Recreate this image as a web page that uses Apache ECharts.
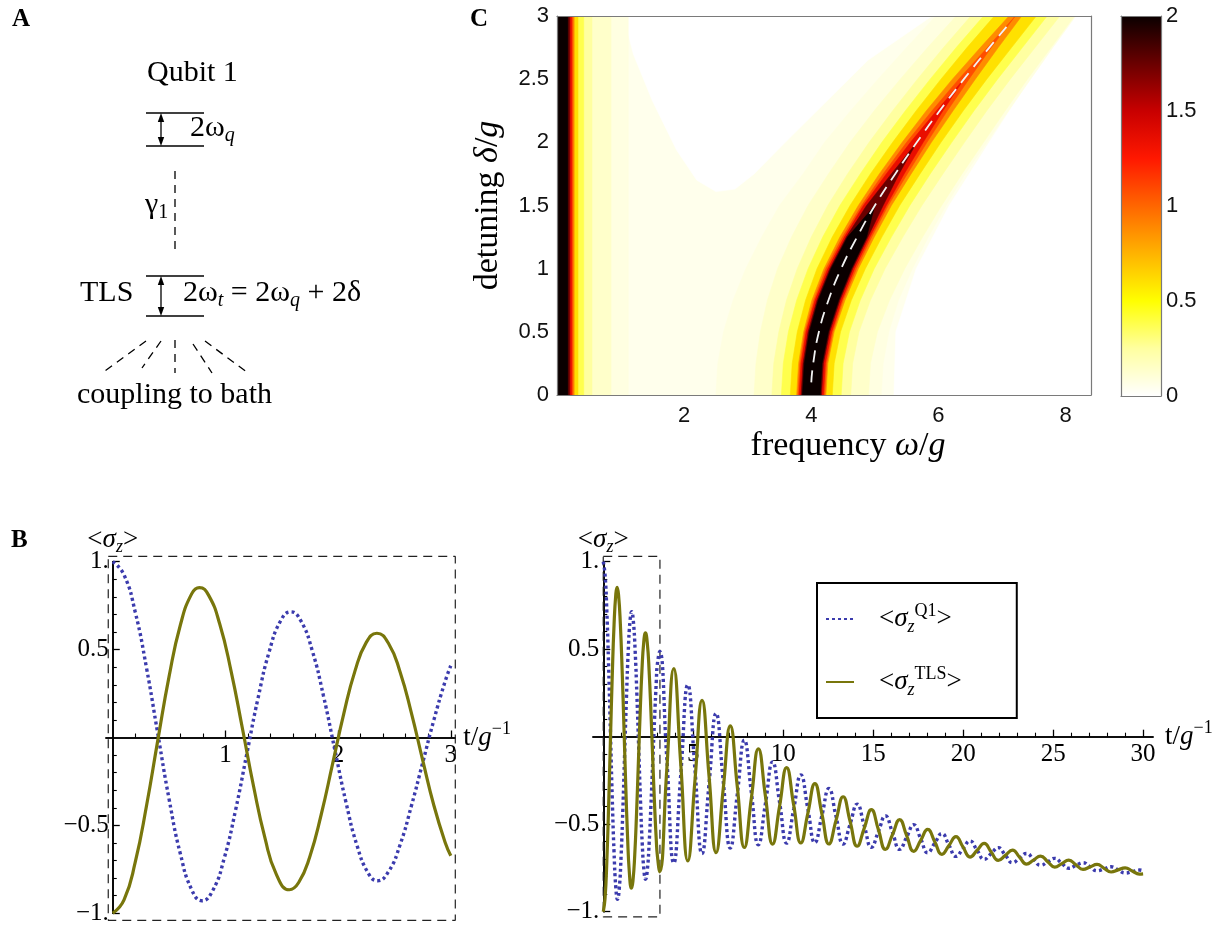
<!DOCTYPE html>
<html><head><meta charset="utf-8">
<script src="https://cdn.jsdelivr.net/npm/echarts@6/dist/echarts.min.js"></script>
<style>html,body{margin:0;padding:0;background:#fff}#chart{width:1224px;height:927px}</style>
</head><body><div id="chart"></div>
<script>
// ================= DATA =================
// Panel B, left: <sigma_z>(t) for t in [0,3] (samples incl. the extrema)
const tTlsLeft = [0,0.1,0.2,0.3,0.4,0.5,0.6,0.7,0.769,0.85,0.95,1.05,1.15,1.25,1.35,1.45,1.567,1.65,1.75,1.85,1.95,2.05,2.15,2.25,2.344,2.45,2.55,2.65,2.75,2.85,2.95,3.0];
const tlsLeft  = [-1.0,-0.924,-0.708,-0.387,-0.015,0.348,0.640,0.817,0.853,0.810,0.644,0.378,0.054,-0.279,-0.570,-0.776,-0.866,-0.825,-0.675,-0.438,-0.153,0.135,0.379,0.541,0.593,0.532,0.373,0.140,-0.127,-0.387,-0.597,-0.672];
const tQ1Left  = [0,0.1,0.2,0.3,0.4,0.5,0.6,0.7,0.792,0.89,0.99,1.09,1.19,1.29,1.39,1.49,1.579,1.67,1.77,1.87,1.97,2.07,2.17,2.27,2.35,2.45,2.55,2.65,2.75,2.85,2.95,3.0];
const q1Left   = [1.0,0.925,0.712,0.394,0.020,-0.351,-0.662,-0.865,-0.929,-0.867,-0.685,-0.413,-0.092,0.226,0.492,0.664,0.715,0.663,0.495,0.237,-0.067,-0.369,-0.619,-0.774,-0.815,-0.76,-0.61,-0.39,-0.145,0.10,0.32,0.408];
// Panel B, right: continuation for t in (3,30] (extrema and mid-crossings)
const tLong   = [3.136,3.528,3.92,4.31,4.70,5.095,5.49,5.88,6.27,6.665,7.06,7.45,7.84,8.23,8.62,9.015,9.41,9.80,10.19,10.585,10.98,11.37,11.76,12.15,12.54,12.935,13.33,13.72,14.11,14.505,14.90,15.29,15.68,16.075,16.47,16.86,17.25,17.64,18.03,18.425,18.82,19.21,19.60,19.99,20.38,20.775,21.17,21.56,21.95,22.345,22.74,23.13,23.52,23.91,24.30,24.695,25.09,25.48,25.87,26.265,26.66,27.05,27.44,27.83,28.22,28.61,29.0,29.395,29.79,30.0];
const tlsLong = [-0.772,-0.192,0.389,-0.161,-0.71,-0.251,0.208,-0.227,-0.662,-0.30,0.062,-0.286,-0.633,-0.352,-0.07,-0.342,-0.614,-0.396,-0.177,-0.392,-0.607,-0.438,-0.268,-0.441,-0.613,-0.478,-0.343,-0.485,-0.626,-0.522,-0.417,-0.531,-0.644,-0.559,-0.474,-0.565,-0.655,-0.593,-0.53,-0.601,-0.672,-0.622,-0.571,-0.630,-0.688,-0.649,-0.61,-0.659,-0.707,-0.678,-0.648,-0.688,-0.728,-0.705,-0.682,-0.714,-0.745,-0.725,-0.705,-0.732,-0.758,-0.744,-0.73,-0.752,-0.773,-0.761,-0.749,-0.767,-0.785,-0.784];
const q1Long  = [0.487,-0.118,-0.722,-0.213,0.296,-0.186,-0.668,-0.268,0.133,-0.252,-0.636,-0.328,-0.02,-0.319,-0.618,-0.381,-0.144,-0.376,-0.608,-0.413,-0.218,-0.412,-0.606,-0.451,-0.296,-0.455,-0.613,-0.499,-0.385,-0.509,-0.632,-0.542,-0.452,-0.548,-0.644,-0.574,-0.503,-0.583,-0.663,-0.608,-0.553,-0.619,-0.684,-0.640,-0.596,-0.649,-0.701,-0.668,-0.634,-0.677,-0.72,-0.694,-0.667,-0.701,-0.735,-0.715,-0.695,-0.724,-0.752,-0.736,-0.72,-0.743,-0.766,-0.755,-0.743,-0.761,-0.779,-0.771,-0.762,-0.766];
// Panel B ticks and ranges
const xMajorLeft  = [1,2,3];
const xMinorLeft  = [0.2,0.4,0.6,0.8,1.2,1.4,1.6,1.8,2.2,2.4,2.6,2.8];
const xMajorRight = [5,10,15,20,25,30];
const xMinorRight = [1,2,3,4,6,7,8,9,11,12,13,14,16,17,18,19,21,22,23,24,26,27,28,29];
const yMajor = [-1,-0.5,0.5,1];
const yMinor = [-0.9,-0.8,-0.7,-0.6,-0.4,-0.3,-0.2,-0.1,0.1,0.2,0.3,0.4,0.6,0.7,0.8,0.9];
const xRangeLeft  = [-0.06, 3.04];
const xRangeRight = [-0.57, 30.55];
const yRangeB     = [-1, 1];
// Zoom-window boxes (t range, sigma range)
const boxLeftT  = [-0.04, 3.04];
const boxLeftV  = [-1.04, 1.03];
const boxRightT = [0, 3.15];
const boxRightV = [-1.03, 1.03];

// Panel C: spectrum drawn as filled contour bands
const ridgeDelta = [0,0.25,0.5,0.75,1.0,1.25,1.5,1.75,2.0,2.25,2.5,2.75,3.0];
const ridgeOmega = [4.0,4.03,4.12,4.27,4.47,4.72,5.0,5.32,5.66,6.02,6.4,6.8,7.21];
const bandLevels = [0.06,0.1,0.2,0.3,0.5,0.8,1.0,1.2,1.6,2.0];
const bandFill   = [0.08,0.14,0.25,0.38,0.6,0.88,1.08,1.35,1.75,2.0];
const leftBandEdge = [1.12,0.85,0.55,0.42,0.33,0.27,0.25,0.23,0.2,0.17];
const haloLeftWidth  = [1.5,1.5,1.5,1.5,1.5,1.5,1.5,1.45,1.45,1.4,1.35,1.3,1.25];
const haloRightWidth = [1.1,1.1,1.1,1.1,1.12,1.12,1.12,1.1,1.1,1.08,1.05,1.0,0.95];
const ridgeHalfWidth = [
  [0.9,0.9,0.92,0.96,1.0,1.03,1.05,1.05,1.05,1.03,1.0,0.97,0.93],
  [0.62,0.62,0.63,0.66,0.69,0.72,0.74,0.75,0.75,0.74,0.73,0.72,0.7],
  [0.47,0.47,0.48,0.5,0.52,0.54,0.55,0.55,0.55,0.54,0.53,0.52,0.5],
  [0.33,0.33,0.34,0.36,0.38,0.39,0.39,0.39,0.38,0.37,0.36,0.35,0.33],
  [0.23,0.23,0.24,0.26,0.27,0.27,0.26,0.25,0.23,0.21,0.18,0.14,0.1],
  [0.21,0.21,0.22,0.23,0.24,0.23,0.21,0.19,0.16,0.12,0.08,0.03,0],
  [0.19,0.19,0.2,0.21,0.21,0.2,0.18,0.14,0.1,0.05,0],
  [0.16,0.16,0.17,0.18,0.18,0.17,0.13,0.06,0],
  [0.14,0.14,0.15,0.16,0.16,0.15,0]
];
const creamValue = 0.05;
const whiteRight = [[5.3,0],[8.4,0],[8.4,3],[8.08,3],[7.44,2.5],[6.8,2.0],[6.17,1.5],[5.65,1.0],[5.33,0.5]];
const whiteNotch = [[1.05,3],[1.2,2.7],[1.5,2.33],[1.88,1.94],[2.2,1.7],[2.5,1.61],[2.8,1.63],[3.1,1.75],[3.61,2.01],[4.25,2.33],[4.89,2.65],[5.9,3.0]];
const dashDelta = [0.1,0.25,0.5,0.75,1.0,1.25,1.5,1.75,2.0,2.25,2.5,2.75,2.95];
const dashOmega = [4.0,4.03,4.12,4.27,4.47,4.72,5.0,5.32,5.66,6.02,6.4,6.8,7.13];
const heatXTicks = [2,4,6,8];
const heatYTicks = [0,0.5,1,1.5,2,2.5,3];
const cbarTicks  = [0,0.5,1,1.5,2];
const cmapColors = ['#ffffff','#ffffa0','#ffff00','#ffb300','#ff6600','#ff1800','#c80000','#6a0000','#0a0000'];

// ================= STYLE =================
const SERIF = '"Liberation Serif","Times New Roman",serif';
const SANS = '"Liberation Sans",Arial,sans-serif';
const BLUE = '#3b3bad', OLIVE = '#78760c';

function pairs(xs, ys){ return xs.map((x,i)=>[x, ys[i]]); }
function fmtTick(v){ const a = Math.abs(v); const s = a === 1 ? '1.' : String(a); return (v < 0 ? '\u2212' : '') + s; }

const richAxis = {
  n:   {fontFamily: SERIF, fontSize: 27, color:'#000', lineHeight: 34},
  i:   {fontFamily: SERIF, fontSize: 27, fontStyle:'italic', color:'#000', lineHeight: 34},
  sub: {fontFamily: SERIF, fontSize: 18, fontStyle:'italic', color:'#000', verticalAlign:'bottom', lineHeight: 18},
  sup: {fontFamily: SERIF, fontSize: 18, color:'#000', verticalAlign:'top', lineHeight: 18},
  sp:  {width: 20}
};
const richBig = {
  n: {fontFamily: SERIF, fontSize: 34, color:'#000'},
  i: {fontFamily: SERIF, fontSize: 34, fontStyle:'italic', color:'#000'}
};

// ================= HEAT LAYERS =================
const heatLayers = [];
heatLayers.push({value: creamValue, pts: [[0,0],[8.4,0],[8.4,3],[0,3]]});
heatLayers.push({value: 0, pts: whiteRight});
heatLayers.push({value: 0, pts: whiteNotch});
bandLevels.forEach((lv, k) => {
  const fill = bandFill[k];
  const e = leftBandEdge[k];
  heatLayers.push({value: fill, pts: [[0,0],[e,0],[e,3],[0,3]]});
  const wl = k === 0 ? haloLeftWidth : ridgeHalfWidth[k-1];
  const wr = k === 0 ? haloRightWidth : ridgeHalfWidth[k-1];
  const left = [], right = [];
  for (let i = 0; i < wl.length; i++) {
    left.push([ridgeOmega[i] - wl[i], ridgeDelta[i]]);
    right.push([ridgeOmega[i] + wr[i], ridgeDelta[i]]);
  }
  heatLayers.push({value: fill, pts: left.concat(right.reverse())});
});

// ================= AXES =================
const gridB = [
  {left:106, top:561.7, width:349.3, height:351.6},
  {left:593, top:561.7, width:560, height:350}
];
function bAxes(gridIndex, xr, xMaj, xMin, xNameGap) {
  const g = gridB[gridIndex];
  // axes cross at t = 0, sigma = 0 (placed with offsets from the grid edge)
  const xOff = -g.height * (0 - yRangeB[0]) / (yRangeB[1] - yRangeB[0]);
  const yOff = -g.width * (0 - xr[0]) / (xr[1] - xr[0]);
  const axisLine = {onZero: false, lineStyle: {color:'#000', width: 1.6}};
  const x = [
    {gridIndex, type:'value', position:'bottom', offset:xOff, min:xr[0], max:xr[1], axisLine,
     axisTick:{inside:true, length:7, customValues:xMaj, lineStyle:{color:'#000', width:1.3}},
     axisLabel:{customValues:xMaj, fontFamily:SERIF, fontSize:25, color:'#000', margin:5, formatter: v => String(v)},
     splitLine:{show:false},
     name:'{n|t/}{i|g}{sup|\u22121}', nameLocation:'end', nameGap:xNameGap, nameMoveOverlap:false,
     nameTextStyle:{rich: richAxis, align:'left', verticalAlign:'middle'}},
    {gridIndex, type:'value', position:'bottom', offset:xOff, min:xr[0], max:xr[1], axisLine,
     axisTick:{inside:true, length:4, customValues:xMin, lineStyle:{color:'#000', width:1.1}},
     axisLabel:{show:false}, splitLine:{show:false}}
  ];
  const y = [
    {gridIndex, type:'value', position:'left', offset:yOff, min:yRangeB[0], max:yRangeB[1], axisLine,
     axisTick:{inside:true, length:7, customValues:yMajor, lineStyle:{color:'#000', width:1.3}},
     axisLabel:{customValues:yMajor, fontFamily:SERIF, fontSize:25, color:'#000', margin:4, formatter: fmtTick},
     splitLine:{show:false},
     name:'{n|<}{i|\u03c3}{sub|z}{n|>}', nameLocation:'end', nameGap:22, nameMoveOverlap:false,
     nameTextStyle:{rich: richAxis, align:'center', verticalAlign:'middle'}},
    {gridIndex, type:'value', position:'left', offset:yOff, min:yRangeB[0], max:yRangeB[1], axisLine,
     axisTick:{inside:true, length:4, customValues:yMinor, lineStyle:{color:'#000', width:1.1}},
     axisLabel:{show:false}, splitLine:{show:false}}
  ];
  return {x, y};
}
const bl = bAxes(0, xRangeLeft, xMajorLeft, xMinorLeft, 8);
const br = bAxes(1, xRangeRight, xMajorRight, xMinorRight, 12);

const greyLine = {show:true, onZero:false, lineStyle:{color:'#7a7a7a', width:1.2}};
const heatX = [
  {gridIndex:2, type:'value', position:'bottom', min:0, max:8.4, z:10, axisLine:greyLine, axisTick:{show:false},
   axisLabel:{customValues:heatXTicks, fontFamily:SANS, fontSize:22, color:'#111', margin:10},
   splitLine:{show:false},
   name:'{n|frequency }{i|\u03c9}{n|/}{i|g}', nameLocation:'middle', nameGap:34,
   nameTextStyle:{rich: richBig, padding:[0,0,0,48]}},
  {gridIndex:2, type:'value', position:'top', min:0, max:8.4, z:10, axisLine:greyLine, axisTick:{show:false}, axisLabel:{show:false}, splitLine:{show:false}}
];
const heatY = [
  {gridIndex:2, type:'value', position:'left', min:0, max:3, z:10, axisLine:greyLine, axisTick:{show:false},
   axisLabel:{customValues:heatYTicks, fontFamily:SANS, fontSize:22, color:'#111', margin:8},
   splitLine:{show:false},
   name:'{n|detuning }{i|\u03b4}{n|/}{i|g}', nameLocation:'middle', nameGap:52, nameRotate:90,
   nameTextStyle:{rich: richBig}},
  {gridIndex:2, type:'value', position:'right', min:0, max:3, z:10, axisLine:greyLine, axisTick:{show:false}, axisLabel:{show:false}, splitLine:{show:false}}
];
const cbX = [
  {gridIndex:3, type:'category', data:['c'], position:'bottom', z:10, axisLine:greyLine, axisTick:{show:false}, axisLabel:{show:false}},
  {gridIndex:3, type:'category', data:['c'], position:'top', z:10, axisLine:greyLine, axisTick:{show:false}, axisLabel:{show:false}}
];
const cbY = [
  {gridIndex:3, type:'value', position:'right', min:0, max:2, z:10, axisLine:greyLine,
   axisTick:{inside:true, length:4, customValues:cbarTicks, lineStyle:{color:'#333'}},
   axisLabel:{customValues:cbarTicks, fontFamily:SANS, fontSize:22, color:'#111', margin:5},
   splitLine:{show:false}},
  {gridIndex:3, type:'value', position:'left', min:0, max:2, z:10, axisLine:greyLine,
   axisTick:{inside:true, length:4, customValues:cbarTicks, lineStyle:{color:'#333'}},
   axisLabel:{show:false}, splitLine:{show:false}}
];

// ================= PANEL A (diagram) =================
const ln = (x1,y1,x2,y2,dash) => ({type:'line', silent:true, z:20, shape:{x1,y1,x2,y2}, style:{stroke:'#000', lineWidth:1.3, lineDash: dash || null}});
const head = (x,y,dir) => ({type:'polygon', silent:true, z:20, shape:{points:[[x,y],[x-3.2,y+dir*9],[x+3.2,y+dir*9]]}, style:{fill:'#000'}});
const richA = {
  n:   {fontFamily:SERIF, fontSize:30, fill:'#000', lineHeight:36},
  i:   {fontFamily:SERIF, fontSize:30, fontStyle:'italic', fill:'#000', lineHeight:36},
  sub: {fontFamily:SERIF, fontSize:20, fontStyle:'italic', fill:'#000', verticalAlign:'bottom', lineHeight:20},
  subr:{fontFamily:SERIF, fontSize:20, fill:'#000', verticalAlign:'bottom', lineHeight:20}
};
const txt = (x,y,text) => ({type:'text', silent:true, z:20, x, y,
  style:{text, fill:'#000', fontFamily:SERIF, fontSize:30, verticalAlign:'middle', align:'left', rich:richA}});
const dash = [8,6];
const graphics = [
  {type:'text', silent:true, x:12, y:20, style:{text:'A', fontFamily:SERIF, fontWeight:'bold', fontSize:25, fill:'#000', verticalAlign:'middle'}},
  {type:'text', silent:true, x:11, y:541, style:{text:'B', fontFamily:SERIF, fontWeight:'bold', fontSize:25, fill:'#000', verticalAlign:'middle'}},
  {type:'text', silent:true, x:470, y:20, style:{text:'C', fontFamily:SERIF, fontWeight:'bold', fontSize:25, fill:'#000', verticalAlign:'middle'}},
  txt(147, 73, 'Qubit 1'),
  ln(146,113,204,113), ln(146,146,204,146),
  ln(161,118,161,141), head(161,113,1), head(161,146,-1),
  txt(190, 128, '{n|2\u03c9}{sub|q}'),
  ln(175,171,175,250,dash),
  txt(145, 205, '{n|\u03b3}{subr|1}'),
  ln(146,276,204,276), ln(146,316,204,316),
  ln(161,281,161,311), head(161,276,1), head(161,316,-1),
  txt(80, 293, 'TLS'),
  txt(183, 293, '{n|2\u03c9}{sub|t}{n| = 2\u03c9}{sub|q}{n| + 2\u03b4}'),
  ln(175,340,175,373,dash),
  ln(161,341,142,368,dash), ln(146,341,102,373,dash),
  ln(193,344,212,373,dash), ln(205,341,248,373,dash),
  txt(77, 395, 'coupling to bath')
];

// ================= SERIES =================
const q1Style  = {color:BLUE, width:3.4, type:[3,3]};
const tlsStyle = {color:OLIVE, width:3.2};
const boxStyle = {color:'#222', width:1.2, type:[9,6]};
function boxData(t, v){ return [[t[0],v[1]],[t[1],v[1]],[t[1],v[0]],[t[0],v[0]],[t[0],v[1]]]; }

const series = [
  {name:'Q1', type:'line', xAxisIndex:0, yAxisIndex:0, data:pairs(tQ1Left,q1Left), smooth:0.5, showSymbol:false, symbol:'none', clip:false, lineStyle:q1Style, itemStyle:{color:BLUE}, z:3},
  {name:'TLS', type:'line', xAxisIndex:0, yAxisIndex:0, data:pairs(tTlsLeft,tlsLeft), smooth:0.5, showSymbol:false, symbol:'none', clip:false, lineStyle:tlsStyle, itemStyle:{color:OLIVE}, z:4},
  {name:'boxL', type:'line', xAxisIndex:0, yAxisIndex:0, data:boxData(boxLeftT, boxLeftV), showSymbol:false, symbol:'none', clip:false, lineStyle:boxStyle, z:2},
  {name:'Q1', type:'line', xAxisIndex:2, yAxisIndex:2, data:pairs(tQ1Left,q1Left).concat(pairs(tLong,q1Long)), smooth:true, showSymbol:false, symbol:'none', clip:false, lineStyle:q1Style, itemStyle:{color:BLUE}, z:3},
  {name:'TLS', type:'line', xAxisIndex:2, yAxisIndex:2, data:pairs(tTlsLeft,tlsLeft).concat(pairs(tLong,tlsLong)), smooth:true, showSymbol:false, symbol:'none', clip:false, lineStyle:tlsStyle, itemStyle:{color:OLIVE}, z:4},
  {name:'boxR', type:'line', xAxisIndex:2, yAxisIndex:2, data:boxData(boxRightT, boxRightV), showSymbol:false, symbol:'none', clip:false, lineStyle:boxStyle, z:2},
  {name:'spectrum', type:'custom', xAxisIndex:4, yAxisIndex:4, clip:true, silent:true, z:1,
   data: heatLayers.map((l,i) => [l.value, i]),
   renderItem: (params, api) => {
     const layer = heatLayers[api.value(1)];
     const c = api.visual('color');
     return {type:'polygon', shape:{points: layer.pts.map(p => api.coord(p))}, style:{fill:c, stroke:c, lineWidth:0.6}};
   }},
  {name:'ridge', type:'line', xAxisIndex:4, yAxisIndex:4, data:pairs(dashOmega, dashDelta), smooth:true, showSymbol:false, symbol:'none',
   lineStyle:{color:'#f2f2f2', width:1.8, type:[12,8]}, z:6},
  {name:'cbar', type:'bar', xAxisIndex:6, yAxisIndex:6, data:[2], barWidth:'100%', silent:true, z:2,
   itemStyle:{color: new echarts.graphic.LinearGradient(0,1,0,0, cmapColors.map((c,i) => ({offset: i/(cmapColors.length-1), color:c})))}}
];

const option = {
  animation: false,
  backgroundColor: '#fff',
  grid: [
    Object.assign({containLabel:false, outerBoundsMode:'none'}, gridB[0]),
    Object.assign({containLabel:false, outerBoundsMode:'none'}, gridB[1]),
    {left:557, top:16, width:534, height:379, containLabel:false, outerBoundsMode:'none'},
    {left:1121, top:16, width:40, height:380, containLabel:false, outerBoundsMode:'none'}
  ],
  xAxis: [...bl.x, ...br.x, ...heatX, ...cbX],
  yAxis: [...bl.y, ...br.y, ...heatY, ...cbY],
  visualMap: {type:'continuous', show:false, min:0, max:2, dimension:0, seriesIndex:6, inRange:{color: cmapColors}},
  legend: {
    data:['Q1','TLS'], left:817, top:583, orient:'vertical', selectedMode:false,
    padding:[19, 55, 19, 8], itemGap:29, itemWidth:28, itemHeight:10,
    borderColor:'#000', borderWidth:2, backgroundColor:'#fff',
    itemStyle:{color:'rgba(0,0,0,0)', borderWidth:0},
    formatter: name => name === 'Q1'
      ? '{sp|}{n|<}{i|\u03c3}{sub|z}{sup|Q1}{n|>}'
      : '{sp|}{n|<}{i|\u03c3}{sub|z}{sup|TLS}{n|>}',
    textStyle:{rich: richAxis}
  },
  graphic: graphics,
  series
};

const chart = echarts.init(document.getElementById('chart'), null, {renderer:'canvas'});
chart.setOption(option);
</script>
</body></html>
